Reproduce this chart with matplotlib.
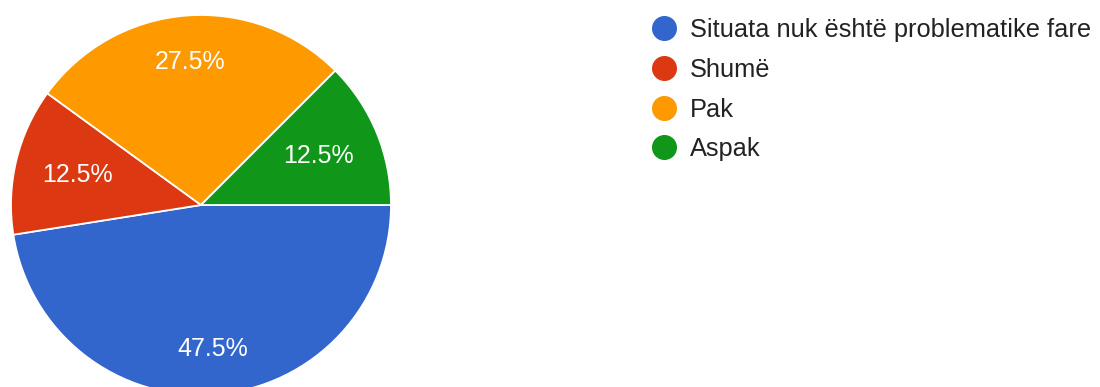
import numpy as np
import matplotlib
matplotlib.use("Agg")
import matplotlib.pyplot as plt
from matplotlib.lines import Line2D

plt.rcParams['font.family'] = ['Liberation Sans', 'DejaVu Sans']

# Survey answers and their shares (percent)
categories = ["Situata nuk është problematike fare", "Shumë", "Pak", "Aspak"]
shares = [47.5, 12.5, 27.5, 12.5]
colors = ["#3366cc", "#dc3912", "#ff9900", "#109618"]

# radial position of each percentage label (fraction of radius)
label_radius = [0.76, 0.67, 0.755, 0.67]

W, H = 1100, 387
fig = plt.figure(figsize=(W / 100, H / 100), dpi=100)
fig.patch.set_facecolor("white")

cx, cy, r = 201, 205, 190
ax = fig.add_axes([(cx - r) / W, (H - cy - r) / H, 2 * r / W, 2 * r / H])

wedges, _ = ax.pie(
    shares,
    colors=colors,
    startangle=0,
    counterclock=False,
    radius=1,
    wedgeprops=dict(edgecolor="white", linewidth=1.3),
)
ax.set_xlim(-1, 1)
ax.set_ylim(-1, 1)
ax.axis("off")

for w, v, d in zip(wedges, shares, label_radius):
    ang = np.deg2rad((w.theta1 + w.theta2) / 2)
    ax.text(d * np.cos(ang), d * np.sin(ang), f"{v}%",
            ha="center", va="center", color="white", fontsize=18)

handles = [Line2D([], [], marker="o", linestyle="", markersize=17,
                  markerfacecolor=c, markeredgecolor=c) for c in colors]
leg = fig.legend(
    handles, categories,
    loc="upper left",
    bbox_to_anchor=(651.5 / W, 1 - 18 / H),
    frameon=False,
    fontsize=18.3,
    handlelength=1.0,
    handletextpad=0.5,
    labelspacing=0.62,
    borderpad=0,
    borderaxespad=0,
)
for t in leg.get_texts():
    t.set_color("#222222")

fig.savefig("out.png", dpi=100, facecolor="white")
